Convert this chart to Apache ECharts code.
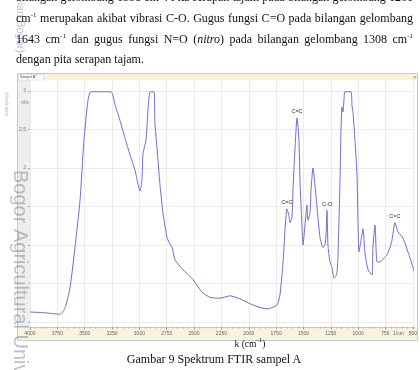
<!DOCTYPE html>
<html>
<head>
<meta charset="utf-8">
<script src="https://cdn.jsdelivr.net/npm/echarts@6/dist/echarts.min.js"></script>
<style>
  html, body { margin: 0; padding: 0; background: #fff; }
  #wrap { position: relative; width: 420px; height: 370px; overflow: hidden;
          font-family: "Liberation Serif", "Times New Roman", serif; color: #111; }
  #chart { position: absolute; left: 0; top: 0; width: 420px; height: 370px; }
  .ln { position: absolute; left: 16px; width: 397px; font-size: 12px; line-height: 21px;
        white-space: nowrap; text-align: justify; text-align-last: justify; }
  .ln.last { text-align: left; text-align-last: left; }
  sup { font-size: 7px; line-height: 0; vertical-align: 5px; }
  #xname { position: absolute; left: 0; width: 500px; top: 337px; font-size: 9.5px; line-height: 14px; text-align: center; }
  #caption { position: absolute; left: 0; width: 428px; top: 351px; font-size: 12px; line-height: 17px; text-align: center; }
</style>
</head>
<body>
<div id="wrap">
  <div id="chart"></div>
  <div class="ln" style="top:-13px">bilangan gelombang 1558 cm<sup>-1</sup>. Pita serapan tajam pada bilangan gelombang 1261</div>
  <div class="ln" style="top:8px">cm<sup>-1</sup> merupakan akibat vibrasi C-O. Gugus fungsi C=O pada bilangan gelombang</div>
  <div class="ln" style="top:29px">1643 cm<sup>-1</sup> dan gugus fungsi N=O (<i>nitro</i>) pada bilangan gelombang 1308 cm<sup>-1</sup></div>
  <div class="ln last" style="top:49px">dengan pita serapan tajam.</div>
  <div id="xname">k (cm<sup>-1</sup>)</div>
  <div id="caption">Gambar 9 Spektrum FTIR sampel A</div>
</div>
<script>
// spectrum: wavenumber (cm-1) / absorbance
const wavenumber = [4000, 3863, 3726, 3680, 3634, 3589, 3543, 3507, 3470, 3443, 3260, 3223, 3178, 3132,
  3086, 3040, 3013, 2995, 2977, 2967, 2940, 2922, 2903, 2867, 2858, 2830, 2812, 2785, 2748, 2721, 2702,
  2675, 2602, 2510, 2428, 2355, 2264, 2172, 2081, 1962, 1834, 1743, 1716, 1688, 1670, 1652, 1634, 1624,
  1606, 1597, 1579, 1560, 1542, 1533, 1515, 1505, 1487, 1469, 1460, 1441, 1432, 1414, 1396, 1377, 1350,
  1323, 1304, 1295, 1286, 1277, 1259, 1240, 1222, 1204, 1195, 1186, 1176, 1167, 1158, 1149, 1140, 1131,
  1122, 1067, 1058, 1048, 1030, 1012, 1003, 994, 975, 957, 939, 911, 875, 866, 847, 829, 802, 765, 738,
  710, 692, 665, 637, 592, 546, 500, 473, 455]
const absorbance = [0.13, 0.12, 0.10, 0.18, 0.45, 0.97, 1.58, 2.36, 2.88, 2.99, 2.99, 2.82, 2.62, 2.39,
  2.17, 1.97, 1.79, 1.70, 1.84, 2.19, 2.36, 2.75, 2.99, 2.99, 2.58, 2.10, 1.78, 1.42, 1.10, 1.01, 0.97,
  0.81, 0.68, 0.55, 0.39, 0.32, 0.31, 0.34, 0.30, 0.22, 0.17, 0.22, 0.35, 0.77, 1.19, 1.47, 1.38, 1.29,
  1.36, 1.71, 2.23, 2.65, 2.36, 1.84, 1.26, 1.00, 1.26, 1.52, 1.32, 1.42, 1.71, 2.00, 1.78, 1.49, 1.10,
  0.97, 1.00, 1.13, 1.45, 1.00, 0.78, 0.71, 0.57, 0.60, 0.64, 0.84, 1.32, 1.84, 2.49, 2.79, 2.73, 2.88,
  2.99, 2.99, 2.82, 2.71, 2.36, 1.91, 1.32, 0.91, 1.06, 1.21, 0.90, 0.68, 0.61, 0.97, 1.26, 0.78, 0.78, 0.83,
  0.87, 0.97, 1.06, 1.29, 1.17, 1.09, 0.91, 0.71, 0.58, 0.44]

// peak annotations
const peakNames = ['C=C', 'C=O', 'C-O', 'C=C']
const peakWavenumber = [1560, 1652, 1286, 665]
const peakAbsorbance = [2.65, 1.47, 1.45, 1.29]

const X_MIN = 500
const X_MAX = 4000
const Y_LABEL_FROM = 2   // lower labels are hidden under the watermark

const LINE_COLOR = '#6f6fcc'
const GRID_COLOR = '#ececec'
const AXIS_FONT = '"Liberation Sans", Arial, sans-serif'

const chart = echarts.init(document.getElementById('chart'), null, { renderer: 'canvas' })

const option = {
  animation: false,
  grid: [
    { left: 30, right: 7, top: 80, bottom: 43 },   // frame + vertical grid + x labels
    { left: 30, right: 7, top: 91, bottom: 48 },   // data area, 0..3 abs
  ],
  xAxis: [
    {
      gridIndex: 0, type: 'value', min: X_MIN, max: X_MAX, interval: 250, inverse: true,
      axisLine: { show: true, lineStyle: { color: '#cfcbb0' } },
      axisTick: { show: true, length: 2.5, lineStyle: { color: '#999' } },
      minorTick: { show: true, splitNumber: 5, length: 1.5, lineStyle: { color: '#aaa' } },
      axisLabel: { fontSize: 5, color: '#666', margin: 4, fontFamily: AXIS_FONT, formatter: (v) => String(v) },
      splitLine: { show: true, lineStyle: { color: GRID_COLOR, width: 1 } },
    },
    { gridIndex: 1, type: 'value', min: X_MIN, max: X_MAX, inverse: true, show: false },
  ],
  yAxis: [
    { gridIndex: 0, type: 'value', min: 0, max: 1, show: false },
    {
      gridIndex: 1, type: 'value', min: 0, max: 3, interval: 0.5,
      axisLine: { show: false },
      axisTick: { show: true, length: 2, lineStyle: { color: '#aaa' } },
      axisLabel: {
        fontSize: 5, color: '#777', margin: 4, fontFamily: AXIS_FONT,
        formatter: (v) => (v >= Y_LABEL_FROM ? String(v) : ''),
      },
      splitLine: { show: true, lineStyle: { color: GRID_COLOR, width: 1 } },
    },
  ],
  series: [
    {
      type: 'line',
      xAxisIndex: 1,
      yAxisIndex: 1,
      data: wavenumber.map((k, i) => [k, absorbance[i]]),
      symbol: 'none',
      smooth: 0.2,
      clip: false,
      lineStyle: { color: LINE_COLOR, width: 1 },
      markPoint: {
        symbol: 'circle',
        symbolSize: 0,
        label: {
          show: true, position: 'top', distance: 3, fontSize: 5.5, color: '#333',
          fontFamily: AXIS_FONT, formatter: (p) => p.name,
        },
        data: peakNames.map((n, i) => ({ name: n, coord: [peakWavenumber[i], peakAbsorbance[i]] })),
      },
      z: 5,
    },
  ],
  graphic: [
    // program window behind the plot
    { type: 'rect', z: -10, shape: { x: 17.5, y: 73.5, width: 400, height: 267 },
      style: { fill: '#fff', stroke: '#c9c9c9', lineWidth: 1 } },
    { type: 'rect', z: -9, shape: { x: 18, y: 74, width: 399, height: 6 }, style: { fill: '#f8f3d6' } },
    { type: 'rect', z: -8, shape: { x: 18.5, y: 74.5, width: 25, height: 5.5 },
      style: { fill: '#fff', stroke: '#c8c8c8', lineWidth: 0.5 } },
    { type: 'text', z: -7, x: 20, y: 77.3, style: { text: 'Sampel A*', font: '3.5px ' + AXIS_FONT, fill: '#444', verticalAlign: 'middle' } },
    { type: 'text', z: -7, x: 413, y: 77, style: { text: '×', font: '6px ' + AXIS_FONT, fill: '#888', verticalAlign: 'middle' } },
    { type: 'rect', z: -9, shape: { x: 18, y: 80, width: 12, height: 247 }, style: { fill: '#eeeeec' } },
    { type: 'rect', z: -9, shape: { x: 18, y: 327, width: 399, height: 13 }, style: { fill: '#f6f3df' } },
    { type: 'text', z: 3, x: 21, y: 103, style: { text: 'Abs', font: '4.5px ' + AXIS_FONT, fill: '#888', verticalAlign: 'middle' } },
    { type: 'text', z: 3, x: 393, y: 333.5, style: { text: '1/cm', font: '5px ' + AXIS_FONT, fill: '#666', verticalAlign: 'middle' } },
    // repository watermarks on the scanned page
    { type: 'text', z: 100, x: 10, y: 170, rotation: -Math.PI / 2,
      style: { text: 'Bogor Agricultural University', font: '20px ' + AXIS_FONT,
               fill: 'rgba(130,130,150,0.5)', verticalAlign: 'bottom' } },
    { type: 'text', z: 100, x: 15, y: -30, rotation: -Math.PI / 2,
      style: { text: 'Pertanian Bogor)', font: '11px ' + AXIS_FONT,
               fill: 'rgba(120,130,175,0.5)', verticalAlign: 'bottom' } },
    { type: 'text', z: 100, x: 4, y: 92, rotation: -Math.PI / 2,
      style: { text: 'Abstraksi', font: '6px ' + AXIS_FONT,
               fill: 'rgba(120,120,140,0.5)', verticalAlign: 'bottom' } },
  ],
}

chart.setOption(option)
</script>
</body>
</html>
